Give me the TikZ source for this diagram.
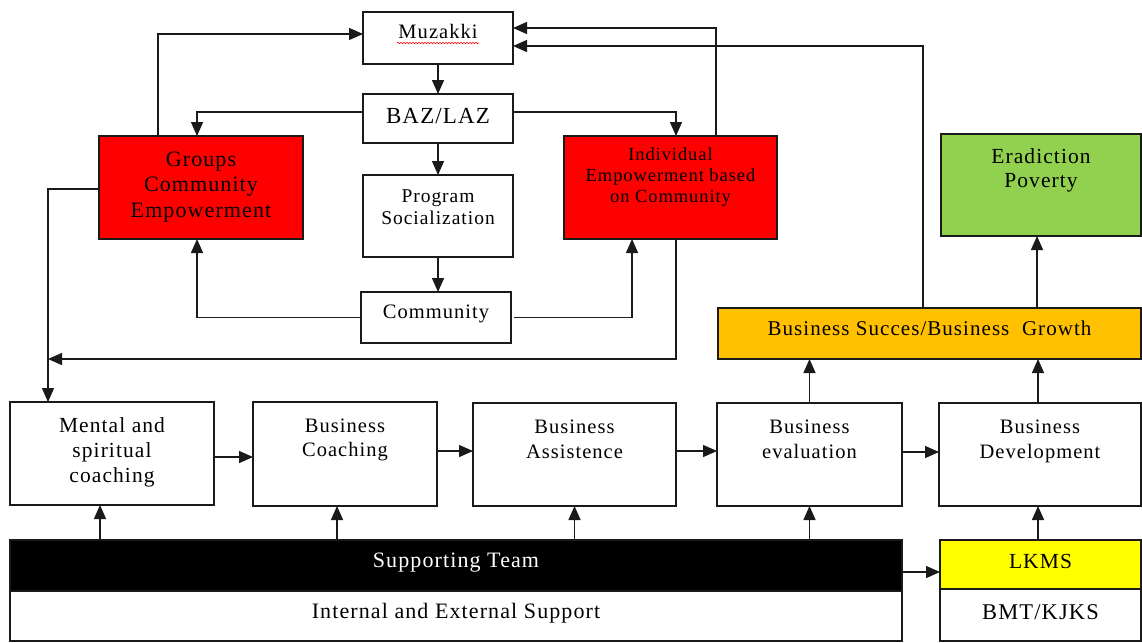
\documentclass[tikz,border=0pt]{standalone}
\usepackage{fontspec}
\setmainfont{Liberation Serif}[LetterSpace=5]
\usetikzlibrary{arrows.meta,calc,backgrounds,decorations.pathmorphing}
\definecolor{bred}{HTML}{FF0000}
\definecolor{bgreen}{HTML}{92D050}
\definecolor{borange}{HTML}{FFC000}
\definecolor{byellow}{HTML}{FFFF00}
\definecolor{bline}{HTML}{1A1A1A}
\newcommand{\tb}[3]{\parbox[t]{450pt}{\centering\fontsize{#1}{#2}\selectfont #3}}
\tikzset{
  box/.style={draw=bline, line width=1.4pt, inner sep=0pt, outer sep=0pt, anchor=north west},
  arr/.style={draw=bline, line width=1.4pt, -{Triangle[length=14pt,width=12pt]}},
  dblarr/.style={draw=bline, line width=1.4pt, {Triangle[length=14pt,width=12pt]}-{Triangle[length=14pt,width=12pt]}},
  txt/.style={inner sep=0pt, outer sep=0pt, anchor=base},
}
\begin{document}
\begin{tikzpicture}[x=1pt,y=-1pt]
\useasboundingbox[fill=white] (0,0) rectangle (1142,642);

% boxes
\node[box, minimum width=150pt, minimum height=52pt] (muz) at (363,12) {};
\node[box, minimum width=150pt, minimum height=49pt] (baz) at (363,94) {};
\node[box, minimum width=150pt, minimum height=82pt] (prog) at (363,175) {};
\node[box, minimum width=150pt, minimum height=51pt] (comm) at (361,292) {};
\node[box, fill=bred, minimum width=204pt, minimum height=103pt] (grp) at (99,136) {};
\node[box, fill=bred, minimum width=213pt, minimum height=103pt] (ind) at (564,136) {};
\node[box, fill=bgreen, minimum width=200pt, minimum height=102pt] (erad) at (941,134) {};
\node[box, fill=borange, minimum width=423pt, minimum height=51pt] (succ) at (718,308) {};
\node[box, minimum width=204pt, minimum height=103pt] (mental) at (10,402) {};
\node[box, minimum width=184pt, minimum height=104pt] (coach) at (253,402) {};
\node[box, minimum width=203pt, minimum height=103pt] (assist) at (473,403) {};
\node[box, minimum width=185pt, minimum height=103pt] (eval) at (717,403) {};
\node[box, minimum width=202pt, minimum height=103pt] (dev) at (939,403) {};
\node[box, fill=black, minimum width=892pt, minimum height=51pt] (team) at (10,540) {};
\node[box, minimum width=892pt, minimum height=50pt] (ext) at (10,591) {};
\node[box, fill=byellow, minimum width=201pt, minimum height=49pt] (lkms) at (940,540) {};
\node[box, minimum width=201pt, minimum height=52pt] (bmt) at (940,589) {};

% texts
\node[txt] (tmuz) at ([yshift=-27pt]muz.north) {\tb{20.5pt}{24pt}{Muzakki}};
\draw[red, line width=0.6pt, decorate, decoration={snake, amplitude=0.7pt, segment length=3pt}]
  ([xshift=-41pt,yshift=-4pt]tmuz.base) -- ([xshift=41pt,yshift=-4pt]tmuz.base);
\node[txt] (tbaz) at ([yshift=-29pt]baz.north) {\tb{23pt}{24pt}{BAZ/LAZ}};
\node[txt] (tprog) at ([yshift=-27pt]prog.north) {\tb{19.5pt}{22pt}{Program\\Socialization}};
\node[txt] (tcomm) at ([yshift=-26pt]comm.north) {\tb{20.5pt}{24pt}{Community}};
\node[txt] (tgrp) at ([yshift=-30pt]grp.north) {\tb{22pt}{25.5pt}{Groups\\Community\\Empowerment}};
\node[txt] (tind) at ([yshift=-24pt]ind.north) {\tb{18.5pt}{21pt}{Individual\\Empowerment based\\on Community}};
\node[txt] (terad) at ([yshift=-29pt]erad.north) {\tb{21.5pt}{24pt}{Eradiction\\Poverty}};
\node[txt] (tsucc) at ([yshift=-27pt]succ.north) {\tb{21pt}{24pt}{Business Succes/Business~~Growth}};
\node[txt] (tmental) at ([yshift=-30pt]mental.north) {\tb{21.5pt}{25pt}{Mental and\\spiritual\\coaching}};
\node[txt] (tcoach) at ([yshift=-30pt]coach.north) {\tb{20.5pt}{24.5pt}{Business\\Coaching}};
\node[txt] (tassist) at ([yshift=-30pt]assist.north) {\tb{20.5pt}{25pt}{Business\\Assistence}};
\node[txt] (teval) at ([yshift=-30pt]eval.north) {\tb{20.5pt}{25pt}{Business\\evaluation}};
\node[txt] (tdev) at ([yshift=-30pt]dev.north) {\tb{20.5pt}{25pt}{Business\\Development}};
\node[txt, text=white] (tteam) at ([yshift=-27pt]team.north) {\tb{22pt}{24pt}{Supporting Team}};
\node[txt] (text) at ([yshift=-27pt]ext.north) {\tb{22pt}{24pt}{Internal and External Support}};
\node[txt] (tlkms) at ([yshift=-28pt]lkms.north) {\tb{21.5pt}{24pt}{LKMS}};
\node[txt] (tbmt) at ([yshift=-30pt]bmt.north) {\tb{22.5pt}{24pt}{BMT/KJKS}};

% connectors
\draw[arr] (muz.south) -- (baz.north);
\draw[arr] (baz.south) -- (prog.north);
\draw[arr] (prog.south) -- (prog.south |- comm.north);
\draw[arr] ([yshift=-18pt]baz.north west) -| ([xshift=-4pt]grp.north);
\draw[arr] ([yshift=-18pt]baz.north east) -| ([xshift=5.5pt]ind.north);
\draw[arr] ([xshift=-43pt]grp.north) |- ([yshift=4pt]muz.west);
\draw[arr] ([xshift=45.5pt]ind.north) |- ([yshift=10pt]muz.east);
\draw[arr] ([xshift=-6.5pt]succ.north) |- ([yshift=-8pt]muz.east);
\draw[arr] (comm.west) -| ([xshift=-4pt]grp.south);
\draw[arr] ([xshift=3pt]comm.east) -| ([xshift=-38.5pt]ind.south);
\coordinate (j1) at (48,359);
\draw[arr] ([xshift=5.5pt]ind.south) |- (j1);
\draw[arr] ([yshift=-1.5pt]grp.west) -| ([xshift=-64pt]mental.north);
\coordinate (lp) at (868,388);
\begin{pgfonlayer}{background}
\draw[dblarr] ([xshift=-44pt]grp.south) |- (lp) |- ([yshift=14.5pt]ind.east);
\end{pgfonlayer}
\draw[arr] (eval.north) -- (eval.north |- succ.south);
\coordinate (d1) at ([xshift=-2pt]dev.north);
\draw[arr] (d1) -- (d1 |- succ.south);
\coordinate (e1) at ([xshift=-4pt]erad.south);
\draw[arr] (e1 |- succ.north) -- (e1);
\coordinate (h1) at ([yshift=-3.5pt]mental.east);
\draw[arr] (h1) -- (h1 -| coach.west);
\coordinate (h2) at ([yshift=3pt]coach.east);
\draw[arr] (h2) -- (h2 -| assist.west);
\coordinate (h3) at ([yshift=3.5pt]assist.east);
\draw[arr] (h3) -- (h3 -| eval.west);
\coordinate (h4) at ([yshift=2.5pt]eval.east);
\draw[arr] (h4) -- (h4 -| dev.west);
\coordinate (h5) at ([yshift=-6.5pt]team.east);
\draw[arr] (h5) -- (h5 -| lkms.west);
\coordinate (u1) at ([xshift=-12pt]mental.south);
\draw[arr] (u1 |- team.north) -- (u1);
\coordinate (u2) at ([xshift=-8pt]coach.south);
\draw[arr] (u2 |- team.north) -- (u2);
\coordinate (u3) at (assist.south);
\draw[arr] (u3 |- team.north) -- (u3);
\coordinate (u4) at (eval.south);
\draw[arr] (u4 |- team.north) -- (u4);
\coordinate (u5) at ([xshift=-2pt]dev.south);
\draw[arr] (u5 |- lkms.north) -- (u5);
\end{tikzpicture}
\end{document}
